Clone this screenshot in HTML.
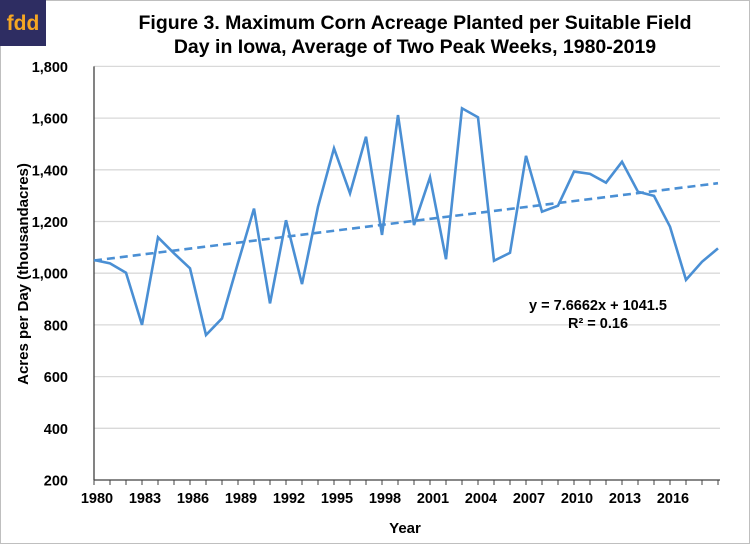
<!DOCTYPE html>
<html><head><meta charset="utf-8"><style>
body{margin:0;background:#fff;}
svg{display:block;font-family:"Liberation Sans",Arial,sans-serif;}
</style></head><body>
<svg id="chart" width="750" height="544" viewBox="0 0 750 544">
<rect x="0.5" y="0.5" width="749" height="543" fill="#fff" stroke="#bfbfbf"/>
<rect x="0" y="0" width="46" height="46" fill="#2e2d62"/>
<text x="23" y="30" text-anchor="middle" font-size="21" font-weight="bold" fill="#f5a623">fdd</text>
<text x="415" y="29" text-anchor="middle" font-size="19.5" font-weight="bold" fill="#000">Figure 3. Maximum Corn Acreage Planted per Suitable Field</text>
<text x="415" y="53" text-anchor="middle" font-size="19.5" font-weight="bold" fill="#000">Day in Iowa, Average of Two Peak Weeks, 1980-2019</text>
<g id="grid"></g><g id="axes"></g><g id="series"></g>
<text x="28" y="274" transform="rotate(-90 28 274)" text-anchor="middle" font-size="15" font-weight="bold">Acres per Day (thousandacres)</text>
<text x="405" y="533" text-anchor="middle" font-size="15" font-weight="bold">Year</text>
<text x="598" y="310" text-anchor="middle" font-size="14.5" font-weight="bold">y = 7.6662x + 1041.5</text>
<text x="598" y="328" text-anchor="middle" font-size="14.5" font-weight="bold">R² = 0.16</text>
</svg>
<script>
const years=[1980,1981,1982,1983,1984,1985,1986,1987,1988,1989,1990,1991,1992,1993,1994,1995,1996,1997,1998,1999,2000,2001,2002,2003,2004,2005,2006,2007,2008,2009,2010,2011,2012,2013,2014,2015,2016,2017,2018,2019];
const acres=[1051,1038,1002,800,1139,1077,1019,761,825,1040,1250,883,1205,958,1257,1483,1309,1528,1148,1612,1186,1371,1054,1638,1603,1048,1079,1454,1238,1261,1393,1384,1350,1431,1315,1299,1180,974,1044,1096];
const yTicks=[200,400,600,800,1000,1200,1400,1600,1800];
const yTickLabels=["200","400","600","800","1,000","1,200","1,400","1,600","1,800"];
const trendSlope=7.6662, trendIntercept=1041.5;
const NS='http://www.w3.org/2000/svg';
const X0=94,X1=718,Y0=480,Y1=66.4;
const x=i=>X0+(X1-X0)*i/(years.length-1);
const y=v=>Y0-(v-200)/1600*(Y0-Y1);
function mk(t,a,p){const e=document.createElementNS(NS,t);for(const k in a)e.setAttribute(k,a[k]);p.appendChild(e);return e;}
const grid=document.getElementById('grid'),axes=document.getElementById('axes'),series=document.getElementById('series');
yTicks.forEach((v,i)=>{
 if(v>200){const g=mk('line',{x1:X0,x2:720,y1:y(v),y2:y(v),stroke:'#d9d9d9','stroke-width':1.3},grid);
 
 }
 const t=mk('text',{x:68,y:y(v)+5.5,'text-anchor':'end','font-size':14.5,'font-weight':'bold'},axes);
 t.textContent=yTickLabels[i];
 
 
});
const ya=mk('line',{x1:X0,x2:X0,y1:Y1,y2:Y0,stroke:'#404040','stroke-width':1.3},axes);


const xa=mk('line',{x1:X0,x2:720,y1:Y0,y2:Y0,stroke:'#404040','stroke-width':1.3},axes);


years.forEach((yr,i)=>{
 const tk=mk('line',{x1:x(i),x2:x(i),y1:Y0,y2:Y0+5,stroke:'#404040','stroke-width':1},axes);
 
 
 if(i%3===0 && i<years.length-1){const t=mk('text',{x:x(i)+3,y:503,'text-anchor':'middle','font-size':14.5,'font-weight':'bold'},axes);
 t.textContent=yr;
 
 }
});
const pts=acres.map((v,i)=>x(i).toFixed(1)+','+y(v).toFixed(1)).join(' ');
const line=mk('polyline',{points:pts,fill:'none',stroke:'#4a8fd4','stroke-width':2.6,'stroke-linejoin':'miter'},series);


const n=years.length;
const tr=mk('line',{x1:x(0),y1:y(trendSlope*1+trendIntercept),x2:x(n-1),y2:y(trendSlope*n+trendIntercept),stroke:'#4a8fd4','stroke-width':2.6,'stroke-dasharray':'8,5'},series);


</script>
</body></html>
